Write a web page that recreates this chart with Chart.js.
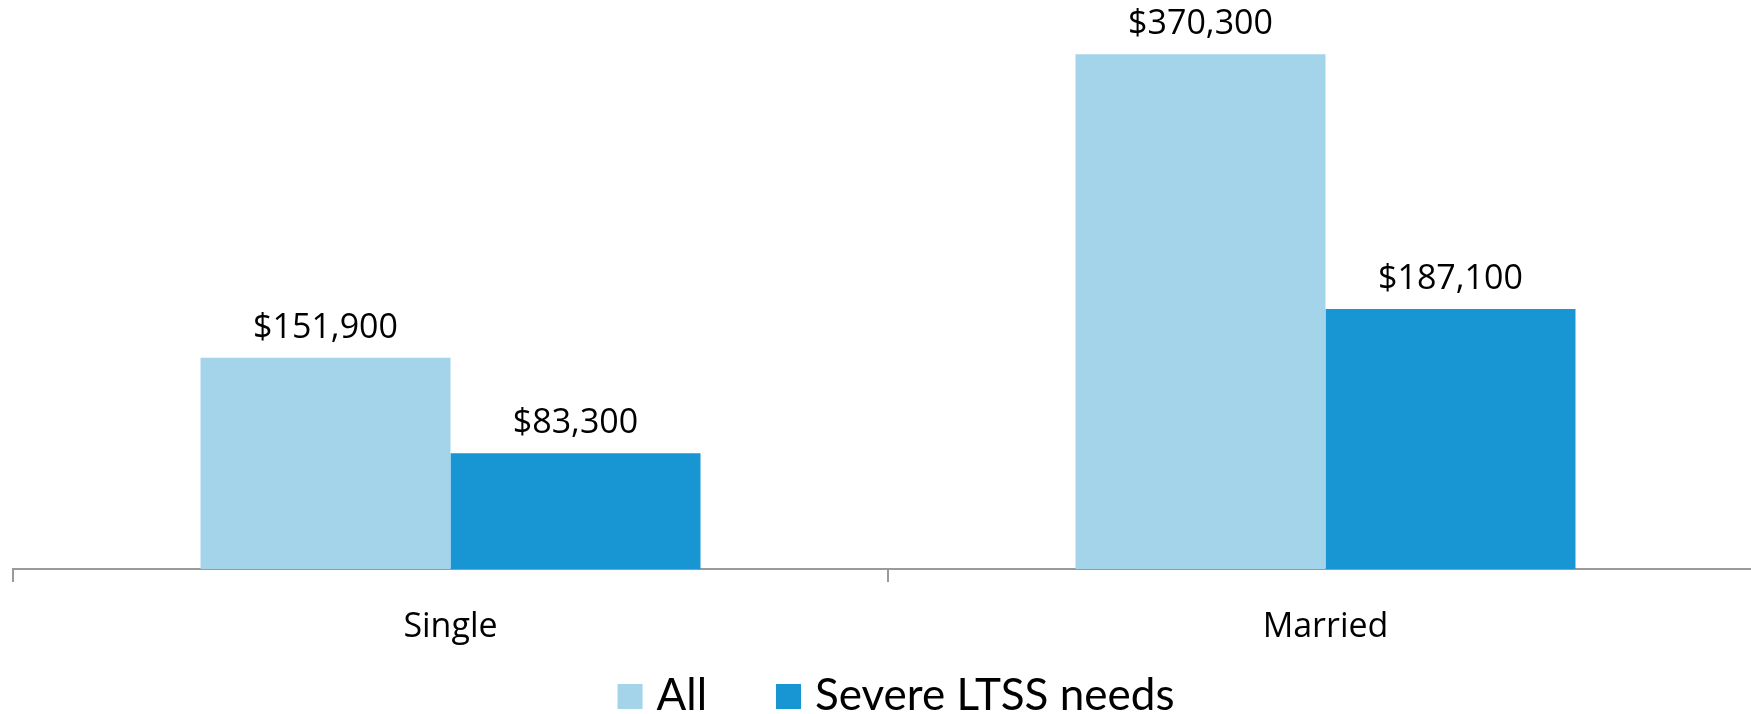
<!DOCTYPE html>
<html>
  <head>
    <meta charset="utf-8" />
    <title>Median wealth</title>
    <script src="https://cdn.jsdelivr.net/npm/chart.js@4.4.1/dist/chart.umd.min.js"></script>
    <style>
      body {
        margin: 0;
        overflow: hidden;
        background: #fff;
      }
    </style>
  </head>
  <body>
    <canvas id="chart" width="1770" height="714"></canvas>
    <script type="text/javascript">
      const categories = ["Single", "Married"];
      const allValues = [151900, 370300];
      const severeValues = [83300, 187100];
      const seriesNames = ["All", "Severe LTSS needs"];
      const seriesColors = ["#A3D4EA", "#1896D3"];

      const money = (v) => "$" + v.toLocaleString("en-US");

      // numbers above each bar
      const valueLabels = {
        id: "valueLabels",
        afterDatasetsDraw(chart) {
          const ctx = chart.ctx;
          ctx.save();
          ctx.font = "34px 'Open Sans'";
          ctx.fillStyle = "#000";
          ctx.textAlign = "center";
          ctx.textBaseline = "alphabetic";
          chart.data.datasets.forEach((ds, i) => {
            chart.getDatasetMeta(i).data.forEach((bar, j) => {
              ctx.fillText(money(ds.data[j]), bar.x, bar.y - 20);
            });
          });
          ctx.restore();
        },
      };

      // legend row along the bottom edge
      const bottomLegend = {
        id: "bottomLegend",
        afterDraw(chart) {
          const ctx = chart.ctx;
          const box = 25;
          const gap = 14;
          const itemGap = 69;
          ctx.save();
          ctx.font = "44px Lato";
          ctx.textBaseline = "alphabetic";
          ctx.textAlign = "left";
          const items = chart.data.datasets.map((ds) => ({
            text: ds.label,
            color: ds.backgroundColor,
            w: ctx.measureText(ds.label).width,
          }));
          let total = 0;
          items.forEach((it, i) => {
            total += box + gap + it.w + (i ? itemGap : 0);
          });
          let x = 896 - total / 2;
          const baseline = 710;
          items.forEach((it) => {
            ctx.fillStyle = it.color;
            ctx.fillRect(x, baseline - 26, box, box);
            ctx.fillStyle = "#000";
            ctx.fillText(it.text, x + box + gap, baseline);
            x += box + gap + it.w + itemGap;
          });
          ctx.restore();
        },
      };

      new Chart(document.getElementById("chart"), {
        type: "bar",
        data: {
          labels: categories,
          datasets: [
            {
              label: seriesNames[0],
              data: allValues,
              backgroundColor: seriesColors[0],
            },
            {
              label: seriesNames[1],
              data: severeValues,
              backgroundColor: seriesColors[1],
            },
          ],
        },
        options: {
          responsive: false,
          animation: false,
          devicePixelRatio: 1,
          categoryPercentage: 0.5714,
          barPercentage: 1,
          layout: { padding: { top: 13, left: 13, right: 7, bottom: 0 } },
          plugins: {
            legend: { display: false },
            tooltip: { enabled: false },
          },
          scales: {
            y: { display: false, min: 0, max: 400000 },
            x: {
              offset: true,
              grid: {
                offset: true,
                drawOnChartArea: false,
                drawTicks: true,
                tickLength: 13,
                color: "#9a9a9a",
                lineWidth: 2,
              },
              border: { color: "#9a9a9a", width: 2 },
              ticks: {
                color: "#000",
                padding: 25,
                font: { family: "'Open Sans'", size: 34 },
              },
              afterFit(scale) {
                scale.height = 145;
              },
            },
          },
        },
        plugins: [valueLabels, bottomLegend],
      });
    </script>
  </body>
</html>
